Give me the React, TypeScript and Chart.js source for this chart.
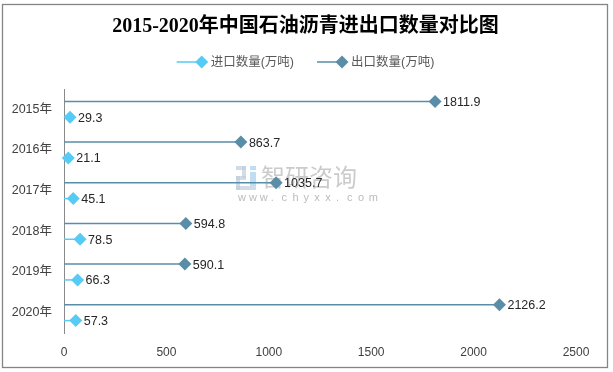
import React, { useEffect, useRef } from "react";
import { Chart, registerables } from "chart.js";

Chart.register(...registerables);

const titleText = "2015-2020年中国石油沥青进出口数量对比图";
const categories = ["2015年", "2016年", "2017年", "2018年", "2019年", "2020年"];
const importValues = [29.3, 21.1, 45.1, 78.5, 66.3, 57.3];
const exportValues = [1811.9, 863.7, 1035.7, 594.8, 590.1, 2126.2];
const xMin = 0;
const xMax = 2500;
const xStep = 500;
const importName = "进口数量(万吨)";
const exportName = "出口数量(万吨)";

const IMPORT_COLOR = "#55CBF5";
const EXPORT_COLOR = "#5A8DA8";
const SANS = "'Liberation Sans', 'Noto Sans CJK SC', sans-serif";

function diamond(ctx: CanvasRenderingContext2D, x: number, y: number, r: number, color: string) {
  ctx.save();
  ctx.beginPath();
  ctx.moveTo(x, y - r);
  ctx.lineTo(x + r, y);
  ctx.lineTo(x, y + r);
  ctx.lineTo(x - r, y);
  ctx.closePath();
  ctx.fillStyle = color;
  ctx.fill();
  ctx.restore();
}

const decorPlugin = {
  id: "decor",
  beforeDatasetsDraw(chart: any) {
    const ctx: CanvasRenderingContext2D = chart.ctx;
    ctx.save();
    ctx.fillStyle = "rgba(185,185,185,0.75)";
    ctx.font = `24px 'Noto Sans CJK SC', sans-serif`;
    ctx.textAlign = "left";
    ctx.textBaseline = "middle";
    ctx.fillText("智研咨询", 261, 177);
    ctx.font = `11px ${SANS}`;
    ctx.fillStyle = "rgba(170,170,170,0.8)";
    const w = "www.chyxx.com".split("");
    let x = 238;
    w.forEach((c) => {
      ctx.fillText(c, x, 198);
      x += 10.9;
    });
    // simple logo mark
    ctx.fillStyle = "rgba(190,205,220,0.7)";
    ctx.fillRect(236, 166, 10, 4);
    ctx.fillRect(242, 166, 4, 12);
    ctx.fillRect(236, 176, 10, 4);
    ctx.fillRect(236, 176, 4, 14);
    ctx.fillRect(236, 186, 20, 4);
    ctx.fillStyle = "rgba(150,200,235,0.6)";
    ctx.fillRect(250, 166, 6, 4);
    ctx.fillRect(250, 172, 6, 14);
    ctx.restore();
  },
  afterDatasetsDraw(chart: any) {
    const ctx: CanvasRenderingContext2D = chart.ctx;
    chart.data.datasets.forEach((ds: any, di: number) => {
      const meta = chart.getDatasetMeta(di);
      meta.data.forEach((el: any, i: number) => {
        const { x, y } = el.getProps(["x", "y"], true);
        diamond(ctx, x, y, 6.5, ds.pointColor);
        ctx.save();
        ctx.font = `12.5px ${SANS}`;
        ctx.fillStyle = "#262626";
        ctx.textAlign = "left";
        ctx.textBaseline = "middle";
        ctx.fillText(String(ds.data[i]), x + 8, y + 1);
        ctx.restore();
      });
    });
  },
  afterDraw(chart: any) {
    const ctx: CanvasRenderingContext2D = chart.ctx;
    ctx.save();
    // border
    ctx.strokeStyle = "#858585";
    ctx.lineWidth = 1.3;
    ctx.strokeRect(2.5, 4.5, 605, 363);
    // title
    ctx.fillStyle = "#000";
    ctx.font = `bold 20px 'Liberation Serif', 'Noto Sans CJK SC', serif`;
    ctx.textAlign = "center";
    ctx.textBaseline = "middle";
    ctx.fillText(titleText, 305.5, 27);
    // legend
    const items = [
      { name: importName, color: IMPORT_COLOR },
      { name: exportName, color: EXPORT_COLOR },
    ];
    ctx.font = `12.5px ${SANS}`;
    const lineLen = 25;
    const gapText = 9;
    const gapItems = 23;
    const widths = items.map((it) => ctx.measureText(it.name).width);
    const total = widths.reduce((a, b) => a + b, 0) + items.length * (lineLen + gapText) + gapItems * (items.length - 1);
    let lx = 305.5 - total / 2;
    const ly = 62;
    items.forEach((it, k) => {
      ctx.strokeStyle = it.color;
      ctx.lineWidth = 1.5;
      ctx.beginPath();
      ctx.moveTo(lx, ly);
      ctx.lineTo(lx + lineLen, ly);
      ctx.stroke();
      diamond(ctx, lx + lineLen, ly, 6.5, it.color);
      ctx.fillStyle = "#595959";
      ctx.textAlign = "left";
      ctx.textBaseline = "middle";
      ctx.fillText(it.name, lx + lineLen + gapText, ly + 1);
      lx += lineLen + gapText + widths[k] + gapItems;
    });
    ctx.restore();
  },
};

export default function App() {
  const ref = useRef<HTMLCanvasElement | null>(null);
  useEffect(() => {
    if (!ref.current) return;
    const chart = new Chart(ref.current, {
      type: "bar",
      data: {
        labels: categories,
        datasets: [
          {
            label: exportName,
            data: exportValues,
            backgroundColor: EXPORT_COLOR,
            borderWidth: 0,
            maxBarThickness: 1.5,
            categoryPercentage: 0.78,
            barPercentage: 1,
            pointColor: EXPORT_COLOR,
          } as any,
          {
            label: importName,
            data: importValues,
            backgroundColor: IMPORT_COLOR,
            borderWidth: 0,
            maxBarThickness: 1.5,
            categoryPercentage: 0.78,
            barPercentage: 1,
            pointColor: IMPORT_COLOR,
          } as any,
        ],
      },
      options: {
        indexAxis: "y",
        animation: false,
        responsive: false,
        devicePixelRatio: 1,
        layout: { padding: { left: 0, right: 37, top: 89, bottom: 0 } },
        plugins: {
          legend: { display: false },
          title: { display: false },
          tooltip: { enabled: false },
        },
        scales: {
          x: {
            type: "linear",
            min: xMin,
            max: xMax,
            ticks: {
              stepSize: xStep,
              padding: 12,
              color: "#404040",
              font: { size: 12, family: SANS },
              callback: (v: any) => String(v),
            },
            grid: { display: false, drawTicks: false },
            border: { display: false },
            afterFit: (s: any) => {
              s.height = 39;
            },
          },
          y: {
            type: "category",
            ticks: { padding: 12, color: "#404040", font: { size: 12.5, family: SANS } },
            grid: { display: false, drawTicks: false },
            border: { display: true, color: "#8a8a8a", width: 1 },
            afterFit: (s: any) => {
              s.width = 64;
            },
          },
        },
      } as any,
      plugins: [decorPlugin],
    });
    return () => chart.destroy();
  }, []);
  return (
    <div style={{ position: "fixed", left: 0, top: 0, width: 613, height: 372, background: "#fff" }}>
      <canvas ref={ref} width={613} height={372} style={{ width: 613, height: 372, display: "block" }} />
    </div>
  );
}
